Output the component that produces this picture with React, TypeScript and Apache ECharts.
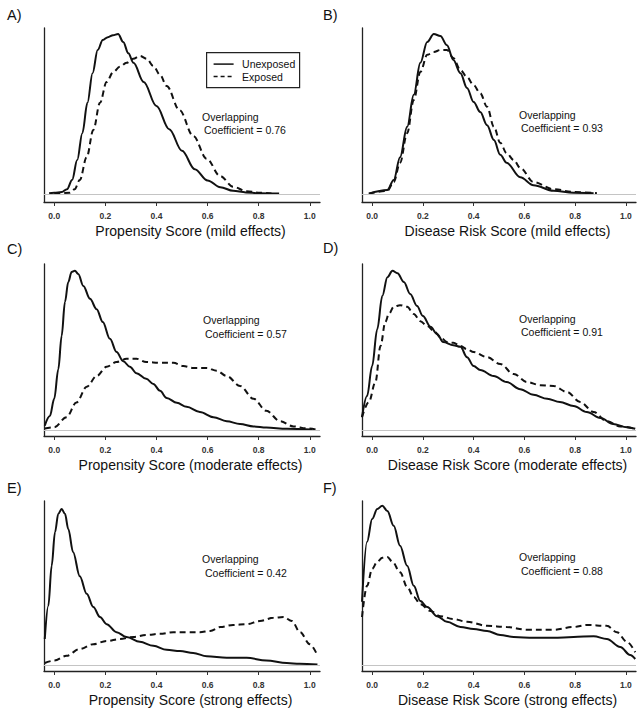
import React, { useEffect, useRef } from "react";
import * as echarts from "echarts";

// ---------- data ----------
const xTicks = [0, 0.2, 0.4, 0.6, 0.8, 1.0];
const panelLetters = ["A)", "B)", "C)", "D)", "E)", "F)"];
const axisTitles = [
  "Propensity Score (mild effects)",
  "Disease Risk Score (mild effects)",
  "Propensity Score (moderate effects)",
  "Disease Risk Score (moderate effects)",
  "Propensity Score (strong effects)",
  "Disease Risk Score (strong effects)",
];
const overlapCoefs = ["0.76", "0.93", "0.57", "0.91", "0.42", "0.88"];
const seriesNames = ["Unexposed", "Exposed"];

const aUnexposed = [
  [-0.02, 0.02], [0.0, 0.03], [0.03, 0.05], [0.05, 0.12], [0.07, 0.35], [0.09, 0.85],
  [0.11, 1.52], [0.13, 2.28], [0.15, 3.02], [0.17, 3.6], [0.19, 3.85], [0.21, 3.92],
  [0.23, 3.97], [0.25, 4.0], [0.27, 3.8], [0.29, 3.52], [0.31, 3.28], [0.35, 2.8],
  [0.4, 2.2], [0.45, 1.62], [0.5, 1.08], [0.55, 0.62], [0.6, 0.34], [0.65, 0.17],
  [0.7, 0.08], [0.75, 0.04], [0.8, 0.02], [0.88, 0.01],
];
const aExposed = [
  [0.0, 0.01], [0.06, 0.03], [0.08, 0.12], [0.1, 0.35], [0.127, 0.92], [0.153, 1.6],
  [0.179, 2.28], [0.205, 2.8], [0.231, 3.05], [0.257, 3.18], [0.283, 3.28], [0.309, 3.38],
  [0.336, 3.45], [0.362, 3.38], [0.388, 3.2], [0.414, 2.98], [0.44, 2.7], [0.49, 2.1],
  [0.544, 1.45], [0.597, 0.88], [0.649, 0.45], [0.7, 0.18], [0.753, 0.07], [0.805, 0.03],
  [0.85, 0.01],
];
const bUnexposed = [
  [-0.013, 0.01], [0.06, 0.1], [0.085, 0.35], [0.11, 0.92], [0.138, 1.68], [0.164, 2.48],
  [0.19, 3.28], [0.217, 3.8], [0.243, 4.0], [0.269, 3.95], [0.295, 3.72], [0.32, 3.35],
  [0.348, 3.02], [0.374, 2.65], [0.4, 2.3], [0.426, 2.05], [0.453, 1.72], [0.48, 1.35],
  [0.505, 0.98], [0.53, 0.78], [0.584, 0.42], [0.636, 0.22], [0.715, 0.08], [0.794, 0.03],
  [0.873, 0.02],
];
const bExposed = [
  [-0.013, 0.01], [0.06, 0.08], [0.085, 0.3], [0.11, 0.78], [0.138, 1.52], [0.164, 2.35],
  [0.19, 3.05], [0.217, 3.48], [0.243, 3.55], [0.269, 3.6], [0.295, 3.6], [0.32, 3.4],
  [0.348, 3.1], [0.374, 2.92], [0.4, 2.72], [0.426, 2.52], [0.453, 2.18], [0.48, 1.68],
  [0.505, 1.28], [0.53, 1.02], [0.558, 0.85], [0.584, 0.65], [0.636, 0.3], [0.715, 0.12],
  [0.794, 0.05], [0.886, 0.02],
];
const cUnexposed = [
  [-0.037, 0.11], [-0.017, 0.35], [0.0, 0.78], [0.016, 1.52], [0.029, 2.35], [0.042, 3.2],
  [0.055, 3.7], [0.068, 3.95], [0.081, 3.98], [0.094, 3.9], [0.114, 3.6], [0.14, 3.28],
  [0.166, 3.02], [0.19, 2.7], [0.218, 2.28], [0.244, 1.95], [0.27, 1.72], [0.296, 1.58],
  [0.322, 1.42], [0.36, 1.28], [0.388, 1.15], [0.414, 0.98], [0.44, 0.8], [0.48, 0.68],
  [0.518, 0.58], [0.57, 0.45], [0.623, 0.32], [0.675, 0.22], [0.727, 0.15], [0.78, 0.09],
  [0.83, 0.06], [0.91, 0.03], [1.01, 0.01],
];
const cExposed = [
  [-0.037, 0.04], [0.0, 0.07], [0.048, 0.32], [0.087, 0.69], [0.127, 1.08], [0.166, 1.35],
  [0.205, 1.58], [0.244, 1.7], [0.283, 1.78], [0.322, 1.78], [0.36, 1.7], [0.414, 1.68],
  [0.466, 1.68], [0.505, 1.6], [0.544, 1.55], [0.597, 1.55], [0.636, 1.48], [0.675, 1.35],
  [0.727, 1.1], [0.78, 0.78], [0.83, 0.48], [0.884, 0.22], [0.936, 0.09], [0.988, 0.04],
  [1.027, 0.01],
];
const dUnexposed = [
  [-0.04, 0.32], [-0.02, 0.85], [0.0, 1.6], [0.02, 2.52], [0.04, 3.35], [0.06, 3.82],
  [0.08, 3.98], [0.1, 3.92], [0.125, 3.7], [0.15, 3.4], [0.177, 3.1], [0.2, 2.85],
  [0.23, 2.58], [0.256, 2.4], [0.28, 2.2], [0.32, 2.12], [0.348, 2.08], [0.374, 1.82],
  [0.4, 1.6], [0.426, 1.5], [0.479, 1.35], [0.53, 1.2], [0.584, 1.02], [0.636, 0.88],
  [0.69, 0.78], [0.74, 0.7], [0.794, 0.6], [0.846, 0.45], [0.9, 0.3], [0.95, 0.15],
  [1.004, 0.07], [1.037, 0.03],
];
const dExposed = [
  [-0.04, 0.32], [-0.013, 0.7], [0.013, 1.2], [0.033, 2.1], [0.052, 2.7], [0.066, 2.9],
  [0.085, 3.08], [0.11, 3.12], [0.138, 3.08], [0.164, 2.9], [0.19, 2.72], [0.217, 2.6],
  [0.243, 2.48], [0.269, 2.32], [0.295, 2.2], [0.32, 2.18], [0.348, 2.1], [0.374, 2.02],
  [0.4, 1.95], [0.453, 1.82], [0.505, 1.65], [0.558, 1.4], [0.61, 1.2], [0.663, 1.12],
  [0.715, 1.1], [0.768, 0.95], [0.82, 0.7], [0.873, 0.45], [0.925, 0.22], [0.978, 0.09],
  [1.037, 0.03],
];
const eUnexposed = [
  [-0.037, 0.65], [-0.023, 1.48], [-0.01, 2.48], [0.003, 3.32], [0.016, 3.78], [0.029, 3.9],
  [0.042, 3.78], [0.055, 3.4], [0.074, 2.82], [0.1, 2.22], [0.127, 1.78], [0.153, 1.45],
  [0.179, 1.2], [0.205, 1.02], [0.244, 0.82], [0.283, 0.7], [0.335, 0.58], [0.388, 0.48],
  [0.44, 0.38], [0.492, 0.35], [0.544, 0.3], [0.597, 0.22], [0.675, 0.18], [0.753, 0.18],
  [0.83, 0.11], [0.91, 0.05], [0.96, 0.03], [1.03, 0.01],
];
const eExposed = [
  [-0.037, 0.05], [0.0, 0.11], [0.048, 0.23], [0.1, 0.4], [0.153, 0.52], [0.205, 0.6],
  [0.257, 0.65], [0.31, 0.7], [0.36, 0.75], [0.414, 0.78], [0.466, 0.82], [0.518, 0.82],
  [0.57, 0.82], [0.61, 0.85], [0.65, 0.95], [0.7, 1.0], [0.753, 1.02], [0.805, 1.1],
  [0.858, 1.18], [0.897, 1.2], [0.93, 1.1], [0.962, 0.82], [1.0, 0.52], [1.027, 0.28],
];
const fUnexposed = [
  [-0.04, 1.58], [-0.02, 3.08], [0.0, 3.65], [0.02, 3.9], [0.04, 3.98], [0.06, 3.85],
  [0.085, 3.48], [0.11, 2.98], [0.138, 2.48], [0.164, 1.98], [0.19, 1.6], [0.217, 1.45],
  [0.256, 1.22], [0.295, 1.08], [0.348, 0.95], [0.4, 0.9], [0.453, 0.85], [0.505, 0.75],
  [0.558, 0.7], [0.636, 0.68], [0.715, 0.68], [0.794, 0.7], [0.873, 0.72], [0.925, 0.65],
  [0.978, 0.45], [1.017, 0.25], [1.037, 0.15],
];
const fExposed = [
  [-0.04, 1.2], [-0.02, 1.98], [0.0, 2.4], [0.02, 2.58], [0.04, 2.68], [0.06, 2.7],
  [0.08, 2.58], [0.11, 2.32], [0.138, 1.95], [0.164, 1.7], [0.19, 1.52], [0.23, 1.35],
  [0.269, 1.22], [0.32, 1.15], [0.374, 1.08], [0.453, 0.98], [0.53, 0.95], [0.61, 0.88],
  [0.715, 0.88], [0.794, 0.95], [0.846, 1.0], [0.925, 0.98], [0.965, 0.82], [1.004, 0.58],
  [1.037, 0.32],
];

const panelData = [
  [aUnexposed, aExposed],
  [bUnexposed, bExposed],
  [cUnexposed, cExposed],
  [dUnexposed, dExposed],
  [eUnexposed, eExposed],
  [fUnexposed, fExposed],
];

// ---------- layout ----------
const FONT = '"Liberation Sans", Arial, Helvetica, sans-serif';
const colLeft = [44, 362];
const colWidth = [276, 274];
const rowTop = [28, 264, 501];
const rowHeight = [174, 172, 170];
const rowYMin = [-0.2, -0.15, -0.15];
const rowYMax = [4.15, 4.15, 4.1];
const labelPos = [
  [7, 15], [323, 15], [7, 249], [323, 248], [7, 488], [323, 488],
];
const overlapPos = [
  [202, 117, 204, 130],
  [519, 115, 521, 128],
  [203, 320, 205, 334],
  [519, 319, 521, 332],
  [202, 559, 205, 573],
  [519, 557, 521, 571],
];

export default function App() {
  const ref = useRef<HTMLDivElement>(null);

  useEffect(() => {
    if (!ref.current) return;
    const chart = echarts.init(ref.current, null, { renderer: "svg" });

    const grids: any[] = [];
    const xAxes: any[] = [];
    const yAxes: any[] = [];
    const series: any[] = [];
    const graphics: any[] = [];

    panelData.forEach((pair, i) => {
      const r = Math.floor(i / 2);
      const c = i % 2;
      grids.push({
        left: colLeft[c],
        top: rowTop[r],
        width: colWidth[c],
        height: rowHeight[r],
        containLabel: false,
      });
      xAxes.push({
        type: "value",
        gridIndex: i,
        min: -0.04,
        max: 1.04,
        position: "bottom",
        axisLine: { show: true, onZero: false, lineStyle: { color: "#222", width: 1.3 } },
        axisTick: {
          show: true,
          customValues: xTicks,
          length: 4,
          lineStyle: { color: "#333", width: 1 },
        },
        axisLabel: {
          show: true,
          customValues: xTicks,
          formatter: (v: number) => v.toFixed(1),
          fontSize: 8.5,
          fontWeight: "bold",
          color: "#333",
          fontFamily: FONT,
          margin: 9,
        },
        splitLine: { show: false },
        name: axisTitles[i],
        nameLocation: "middle",
        nameGap: 22,
        nameTextStyle: {
          fontSize: 14,
          color: "#111",
          fontFamily: FONT,
          padding: [0, 0, 0, 17],
        },
      });
      yAxes.push({
        type: "value",
        gridIndex: i,
        min: rowYMin[r],
        max: rowYMax[r],
        axisLine: { show: true, onZero: false, lineStyle: { color: "#222", width: 1.3 } },
        axisTick: { show: false },
        axisLabel: { show: false },
        splitLine: { show: false },
      });
      pair.forEach((data, k) => {
        series.push({
          type: "line",
          name: seriesNames[k],
          xAxisIndex: i,
          yAxisIndex: i,
          data,
          symbol: "none",
          showSymbol: false,
          smooth: 0.35,
          smoothMonotone: "x",
          lineStyle: { color: "#111", width: 2, type: k === 0 ? "solid" : [6, 4] },
          itemStyle: { color: "#111" },
          z: k === 0 ? 4 : 3,
          markLine:
            k === 1
              ? {
                  silent: true,
                  symbol: ["none", "none"],
                  label: { show: false },
                  lineStyle: { color: "#c4c4c4", width: 1, type: "solid" },
                  data: [{ yAxis: 0 }],
                }
              : undefined,
        });
      });
      graphics.push({
        type: "text",
        x: labelPos[i][0],
        y: labelPos[i][1],
        style: {
          text: panelLetters[i],
          font: `14.5px ${FONT}`,
          fill: "#111",
          verticalAlign: "middle",
        },
      });
      const op = overlapPos[i];
      graphics.push({
        type: "text",
        x: op[0],
        y: op[1],
        style: {
          text: "Overlapping",
          font: `10.5px ${FONT}`,
          fill: "#111",
          verticalAlign: "middle",
        },
      });
      graphics.push({
        type: "text",
        x: op[2],
        y: op[3],
        style: {
          text: `Coefficient = ${overlapCoefs[i]}`,
          font: `10.5px ${FONT}`,
          fill: "#111",
          verticalAlign: "middle",
        },
      });
    });

    // legend box in panel A
    graphics.push({
      type: "group",
      left: 206,
      top: 52,
      children: [
        {
          type: "rect",
          shape: { x: 0, y: 0, width: 93, height: 35 },
          style: { fill: "#fff", stroke: "#222", lineWidth: 1.2 },
        },
        {
          type: "line",
          shape: { x1: 7, y1: 11.5, x2: 27, y2: 11.5 },
          style: { stroke: "#111", lineWidth: 1.5 },
        },
        {
          type: "line",
          shape: { x1: 7, y1: 24, x2: 27, y2: 24 },
          style: { stroke: "#111", lineWidth: 1.5, lineDash: [4, 3] },
        },
        {
          type: "text",
          x: 35.5,
          y: 11.5,
          style: { text: seriesNames[0], font: `10.5px ${FONT}`, fill: "#111", verticalAlign: "middle" },
        },
        {
          type: "text",
          x: 35.5,
          y: 24,
          style: { text: seriesNames[1], font: `10.5px ${FONT}`, fill: "#111", verticalAlign: "middle" },
        },
      ],
    });

    chart.setOption({
      animation: false,
      backgroundColor: "#fff",
      textStyle: { fontFamily: FONT },
      grid: grids,
      xAxis: xAxes,
      yAxis: yAxes,
      series,
      graphic: graphics,
    });

    return () => chart.dispose();
  }, []);

  return (
    <div
      ref={ref}
      style={{ position: "absolute", left: 0, top: 0, width: 643, height: 718 }}
    />
  );
}
